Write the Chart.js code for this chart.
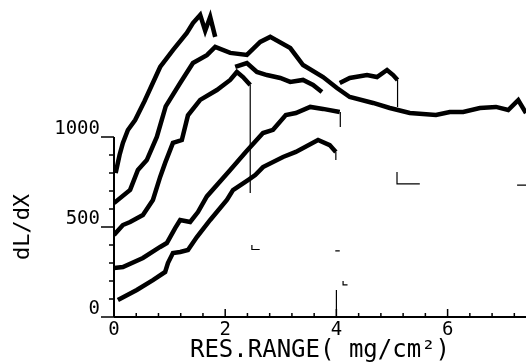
<!DOCTYPE html>
<html>
<head>
<meta charset="utf-8">
<script src="https://cdn.jsdelivr.net/npm/chart.js@4"></script>
<style>
  html, body { margin: 0; padding: 0; background: #fff; }
</style>
</head>
<body>
<canvas id="chartRange" width="526" height="363"></canvas>
<script>
// curves (residual range in mg/cm2, dL/dX)
const aX = [0.07, 0.41, 0.70, 0.92, 0.97, 1.06, 1.19, 1.33, 1.49, 1.73, 2.03, 2.14, 2.41, 2.54, 2.68, 3.04, 3.27, 3.67, 3.88, 3.99]
const aY = [94, 150, 205, 250, 300, 355, 361, 372, 444, 539, 650, 705, 761, 789, 833, 889, 917, 983, 955, 917]

const bX = [0, 0.16, 0.52, 0.83, 0.95, 1.10, 1.19, 1.37, 1.51, 1.67, 2.09, 2.37, 2.68, 2.86, 3.09, 3.27, 3.53, 3.76, 4.06]
const bY = [272, 278, 328, 389, 411, 494, 539, 528, 583, 670, 817, 917, 1022, 1040, 1122, 1133, 1167, 1156, 1139]

const cX = [0, 0.16, 0.29, 0.52, 0.70, 0.83, 0.92, 1.06, 1.22, 1.33, 1.55, 1.85, 2.09, 2.21, 2.32, 2.45]
const cY = [456, 511, 528, 567, 650, 778, 856, 967, 983, 1120, 1206, 1261, 1317, 1361, 1333, 1289]

const dX = [0, 0.29, 0.43, 0.59, 0.77, 0.93, 1.19, 1.42, 1.67, 1.82, 2.09, 2.39, 2.63, 2.81, 3.17, 3.40, 3.76, 4.01, 4.24, 4.66, 4.96, 5.32, 5.79, 6.04, 6.28, 6.58, 6.87, 7.09, 7.27, 7.41]
const dY = [633, 706, 817, 872, 1000, 1170, 1300, 1411, 1455, 1500, 1467, 1456, 1528, 1556, 1494, 1400, 1333, 1272, 1222, 1189, 1161, 1133, 1122, 1139, 1139, 1161, 1167, 1150, 1205, 1133]

const eX = [0.03, 0.10, 0.16, 0.25, 0.38, 0.55, 0.83, 1.06, 1.31, 1.42, 1.55, 1.64, 1.73, 1.82]
const eY = [800, 900, 967, 1039, 1094, 1200, 1389, 1483, 1578, 1633, 1678, 1590, 1667, 1556]

const fX = [2.18, 2.39, 2.57, 2.75, 2.99, 3.17, 3.40, 3.58, 3.74]
const fY = [1389, 1411, 1361, 1344, 1328, 1306, 1317, 1289, 1250]

const gX = [4.06, 4.24, 4.55, 4.73, 4.91, 5.02, 5.10]
const gY = [1300, 1328, 1344, 1333, 1372, 1344, 1317]

// pen drops and small marks (null = pen up)
const markX = [2.45, 2.45, null, 3.99, 3.99, null, 4.07, 4.07, null, 5.10, 5.10, null, 4.00, 4.00, null,
  2.48, 2.48, 2.62, null, 3.98, 4.06, null, 4.12, 4.12, 4.20, null, 5.09, 5.09, 5.50, null, 7.25, 7.41]
const markY = [1289, 689, null, 917, 872, null, 1139, 1055, null, 1317, 1167, null, 150, 0, null,
  400, 375, 375, null, 367, 367, null, 200, 178, 178, null, 805, 739, 739, null, 733, 733]

const xTickStep = 0.4
const xLabelEvery = 2
const yTickStep = 100
const yLabelEvery = 500
const yAxisTop = 1000
const yTitle = 'dL/dX'

const pts = (xs, ys) => xs.map((x, i) => ({ x: x, y: ys[i] }))

const curve = (xs, ys, w) => ({
  data: pts(xs, ys),
  borderColor: '#000',
  borderWidth: w,
  pointRadius: 0,
  tension: 0,
  fill: false
})

const isMultiple = (v, m) => Math.abs(v / m - Math.round(v / m)) < 1e-6

// axis lines and ticks drawn like the plotter did: x ticks up, y ticks out
const plotterAxes = {
  id: 'plotterAxes',
  afterDraw(chart) {
    const c = chart.ctx
    const xs = chart.scales.x
    const ys = chart.scales.y
    const y0 = ys.getPixelForValue(0)
    const x0 = xs.getPixelForValue(0)
    c.save()
    c.strokeStyle = '#000'
    c.lineWidth = 2
    c.beginPath()
    c.moveTo(x0, y0)
    c.lineTo(chart.chartArea.right, y0)
    c.moveTo(x0, y0)
    c.lineTo(x0, ys.getPixelForValue(yAxisTop))
    c.stroke()
    c.lineWidth = 1.5
    c.beginPath()
    for (let v = 0; v <= xs.max + 1e-9; v += xTickStep) {
      const px = xs.getPixelForValue(v)
      const len = isMultiple(v, xLabelEvery) ? 8 : 4
      c.moveTo(px, y0)
      c.lineTo(px, y0 - len)
    }
    for (let v = 0; v <= yAxisTop + 1e-9; v += yTickStep) {
      const py = ys.getPixelForValue(v)
      const len = isMultiple(v, yLabelEvery) ? 13 : 5
      c.moveTo(x0, py)
      c.lineTo(x0 - len, py)
    }
    c.stroke()

    // y title sits beside the lower (labelled) part of the axis
    c.fillStyle = '#000'
    c.font = '22px "DejaVu Sans Mono"'
    c.textAlign = 'center'
    c.textBaseline = 'middle'
    c.translate(23, ys.getPixelForValue(yLabelEvery))
    c.rotate(-Math.PI / 2)
    c.fillText(yTitle, 0, 0)
    c.restore()
  }
}

const ctx = document.getElementById('chartRange')

const chartRange = new Chart(ctx, {
  type: 'line',
  data: {
    datasets: [
      curve(aX, aY, 4.5),
      curve(bX, bY, 4.5),
      curve(cX, cY, 4.5),
      curve(dX, dY, 4.5),
      curve(eX, eY, 4.5),
      curve(fX, fY, 4.5),
      curve(gX, gY, 4.5),
      Object.assign(curve(markX, markY, 1.2), { spanGaps: false })
    ]
  },
  options: {
    responsive: false,
    animation: false,
    devicePixelRatio: 1,
    layout: { padding: 0 },
    plugins: {
      legend: { display: false },
      tooltip: { enabled: false }
    },
    scales: {
      x: {
        type: 'linear',
        min: 0,
        max: 7.41,
        border: { display: false },
        grid: { display: false, drawTicks: false },
        ticks: {
          stepSize: xTickStep,
          autoSkip: false,
          maxRotation: 0,
          padding: 4,
          color: '#000',
          font: { family: 'DejaVu Sans Mono', size: 19, lineHeight: 1 },
          callback: (v) => isMultiple(v, xLabelEvery) ? String(Math.round(v)) : ''
        },
        title: {
          display: true,
          text: 'RES.RANGE( mg/cm²)',
          color: '#000',
          font: { family: 'DejaVu Sans Mono', size: 24, lineHeight: 1 },
          padding: { top: 0, bottom: 0 }
        },
        afterFit: (scale) => {
          scale.height = 46
          scale.paddingLeft = 0
          scale.paddingRight = 0
        }
      },
      y: {
        min: 0,
        max: 1761,
        border: { display: false },
        grid: { display: false, drawTicks: false },
        ticks: {
          stepSize: yTickStep,
          autoSkip: false,
          padding: 14,
          labelOffset: -8,
          color: '#000',
          font: { family: 'DejaVu Sans Mono', size: 19, lineHeight: 1 },
          callback: (v) => (v <= yAxisTop && isMultiple(v, yLabelEvery)) ? String(v) : ''
        },
        title: { display: false },
        afterFit: (scale) => {
          scale.width = 114
          scale.paddingTop = 0
          scale.paddingBottom = 0
        }
      }
    }
  },
  plugins: [plotterAxes]
});
</script>
</body>
</html>
